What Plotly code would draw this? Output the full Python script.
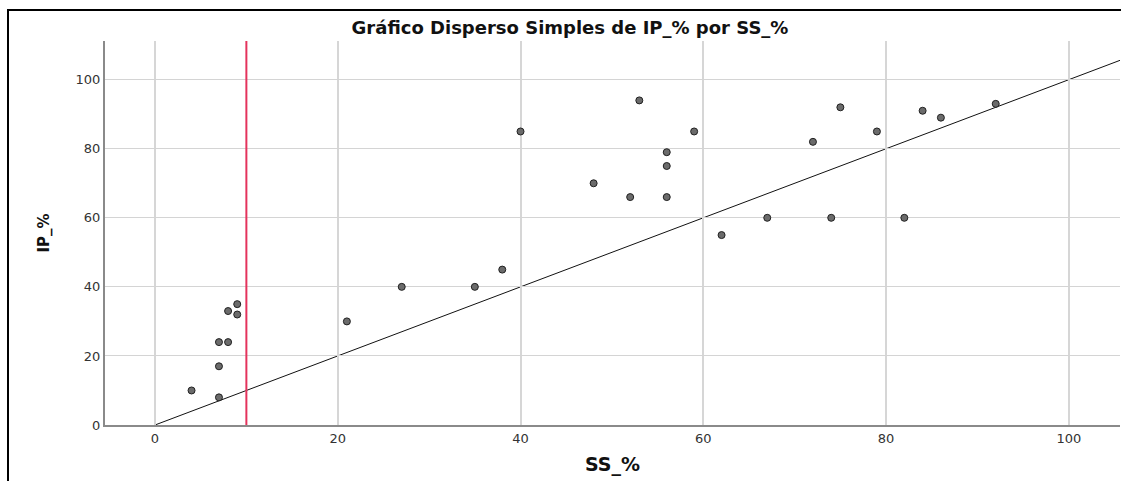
import plotly.graph_objects as go

ss_pct = [4, 7, 7, 7, 8, 8, 9, 9, 21, 27, 35, 38, 40, 48, 52, 53, 56, 56, 56, 59,
          62, 67, 72, 74, 75, 79, 82, 84, 86, 92]
ip_pct = [10, 8, 17, 24, 24, 33, 35, 32, 30, 40, 40, 45, 85, 70, 66, 94, 79, 75, 66, 85,
          55, 60, 82, 60, 92, 85, 60, 91, 89, 93]
ref_x = 10
tick_vals = [0, 20, 40, 60, 80, 100]
x_range = [-5.47, 105.6]
y_range = [0, 111.2]

title_text = "Gráfico Disperso Simples de IP_% por SS_%"
x_title = "SS_%"
y_title = "IP_%"

W, H = 1121, 481
ML, MR, MT, MB = 105, 1, 41, 56
PW = W - ML - MR
PH = H - MT - MB

fig = go.Figure()
fig.add_trace(go.Scatter(
    x=ss_pct, y=ip_pct, mode="markers",
    marker=dict(size=7, color="#6b6b6b", line=dict(color="#202020", width=1)),
    showlegend=False, hoverinfo="x+y",
))

# identity line y = x across the axis range
fig.add_shape(type="line", xref="x", yref="y", x0=0, y0=0, x1=x_range[1], y1=x_range[1],
              line=dict(color="#111111", width=1), layer="below")
# reference line at x = 10
fig.add_shape(type="line", xref="x", yref="paper", x0=ref_x, x1=ref_x, y0=0, y1=1,
              line=dict(color="#e4335c", width=2))
# outer frame (left and top edges visible; right/bottom run off the page)
fig.add_shape(type="rect", xref="paper", yref="paper",
              x0=(8 - ML) / PW, x1=1.05, y0=-0.4, y1=(PH + MT - 10) / PH,
              line=dict(color="#000000", width=2), fillcolor="rgba(0,0,0,0)", layer="above")

tick_font = dict(family="DejaVu Sans, sans-serif", size=13, color="#333333")

fig.update_layout(
    width=W, height=H,
    margin=dict(l=ML, r=MR, t=MT, b=MB, autoexpand=False),
    paper_bgcolor="white", plot_bgcolor="white",
    font=dict(family="DejaVu Sans, sans-serif", color="#222222"),
    title=dict(text="<b>" + title_text + "</b>", x=570 / W, xanchor="center",
               xref="container", y=1 - 28 / H, yanchor="middle", yref="container",
               font=dict(family="DejaVu Sans, sans-serif", size=18, color="#111111")),
    xaxis=dict(range=x_range, tickvals=tick_vals, showgrid=True, gridcolor="#d6d6d6",
               gridwidth=2, zeroline=False, showline=True, linecolor="#8a8a8a",
               linewidth=2, ticks="", tickfont=tick_font, automargin=False,
               title=dict(text="<b>" + x_title + "</b>",
                          font=dict(family="DejaVu Sans, sans-serif", size=19, color="#111111"),
                          standoff=13)),
    yaxis=dict(range=y_range, tickvals=tick_vals, showgrid=True, gridcolor="#d4d4d4",
               gridwidth=1, zeroline=False, showline=True, linecolor="#8a8a8a",
               linewidth=2, ticks="", tickfont=tick_font, automargin=False,
               title=dict(text="<b>" + y_title + "</b>",
                          font=dict(family="DejaVu Sans, sans-serif", size=15, color="#111111"),
                          standoff=22)),
)

fig.write_html("out.html", config={"displayModeBar": False},
               post_script="document.body.style.margin='0';")
